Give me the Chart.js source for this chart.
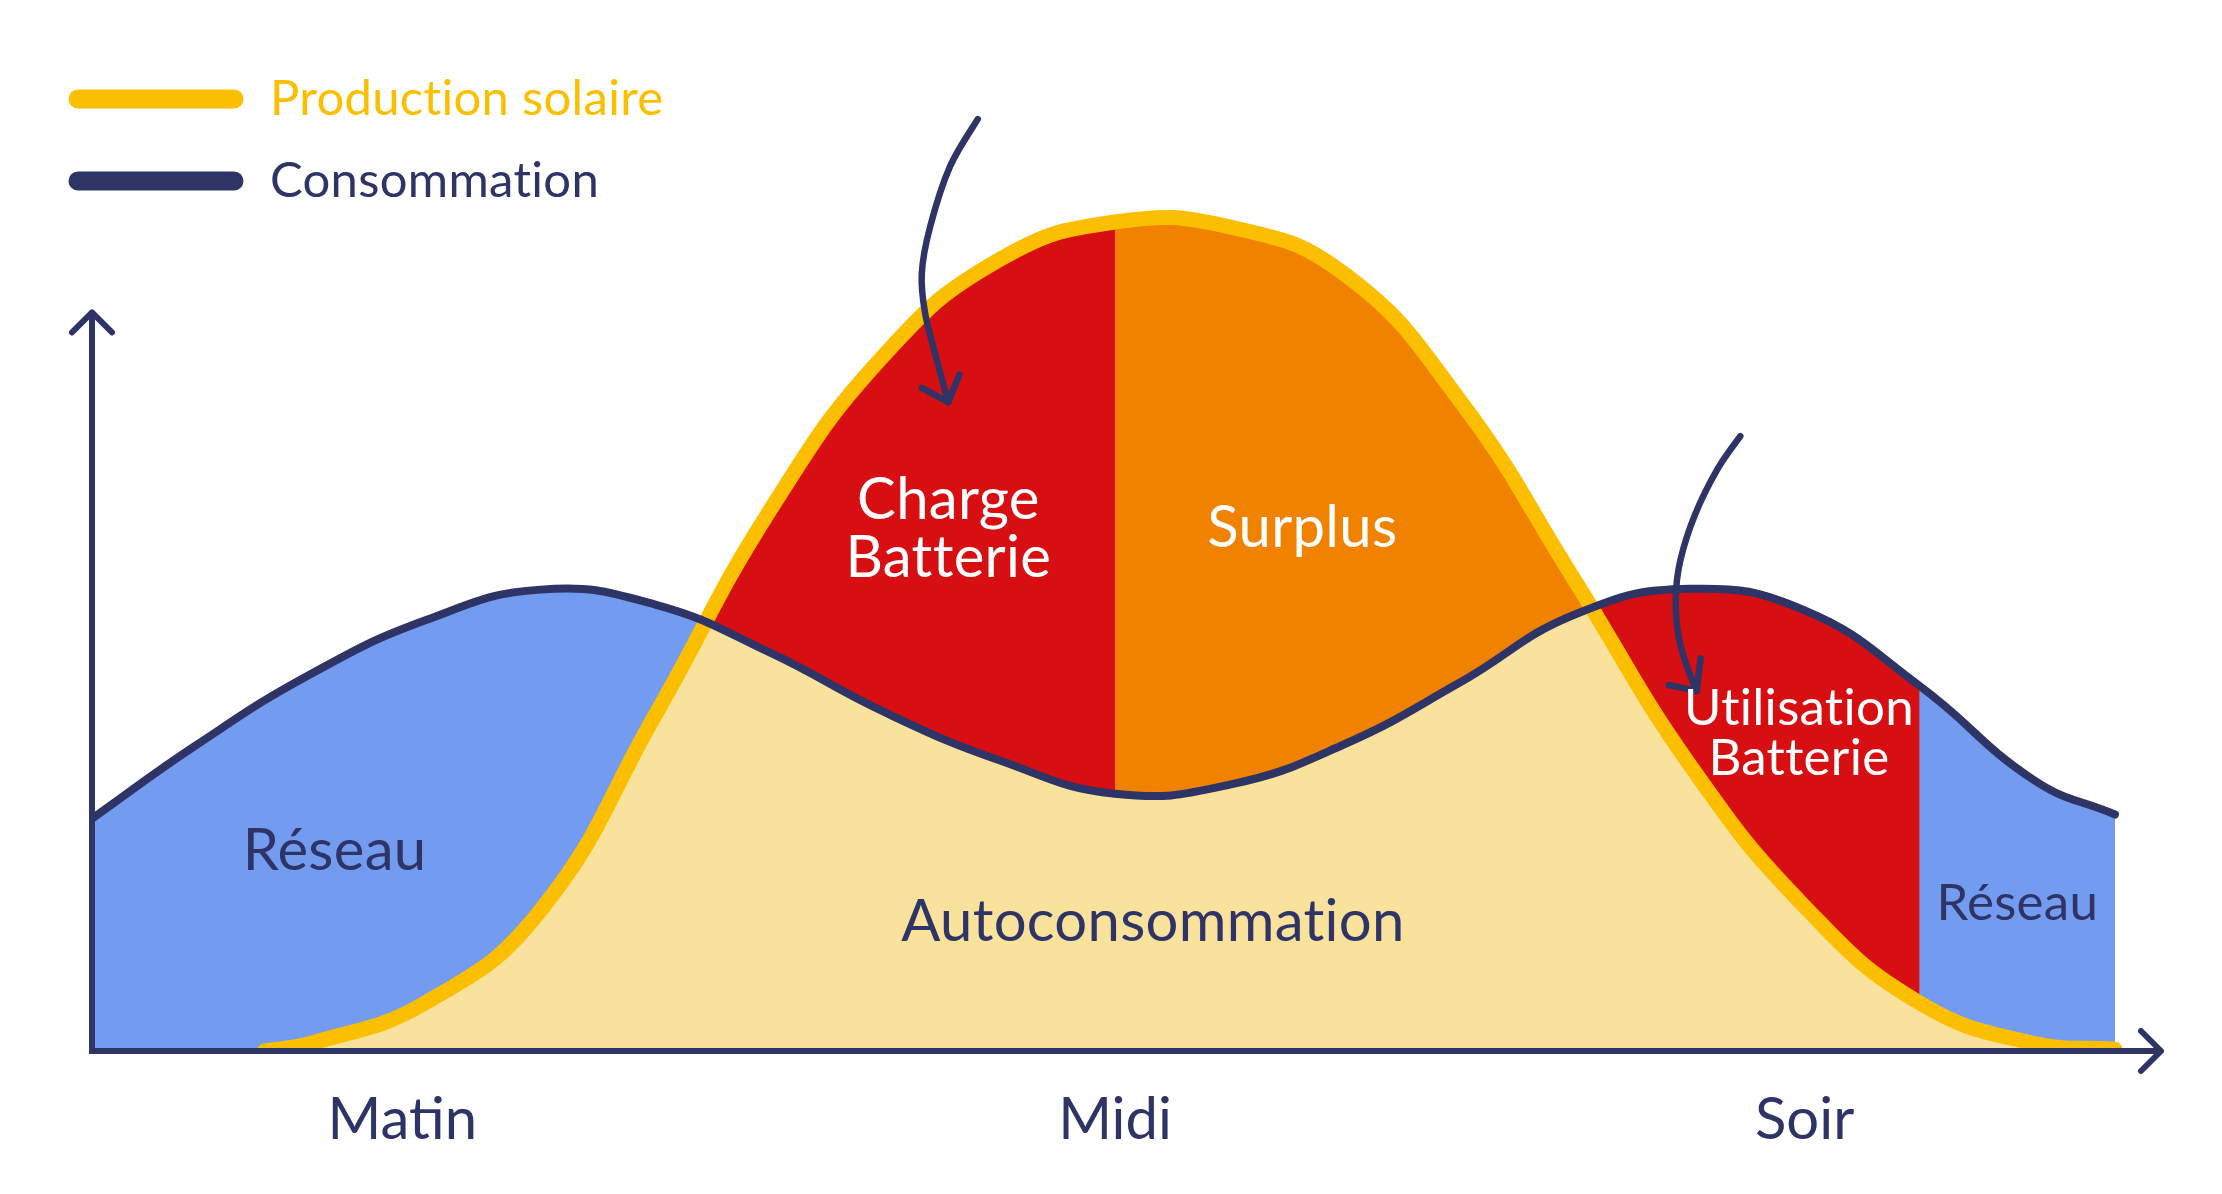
<!DOCTYPE html>
<html lang="fr">
<head>
<meta charset="UTF-8">
<title>Production solaire et consommation</title>
<script src="https://cdn.jsdelivr.net/npm/chart.js"></script>
<style>
  html, body { margin: 0; padding: 0; background: #fff; }
  #wrap { width: 2222px; height: 1194px; position: relative; }
</style>
</head>
<body>
<div id="wrap"><canvas id="solarChart"></canvas></div>
<script>
// hour of the day
const consHours    = [3.1, 4, 5, 6, 7, 8, 9, 10, 11, 12, 13, 14, 15, 16, 17, 18, 19, 20, 20.7];
const consommation = [28.0, 36.8, 45.4, 51.9, 55.6, 53.8, 48.0, 40.8, 35.0, 31.0, 32.1, 37.0, 44.4, 52.6, 55.7, 53.1, 44.0, 32.6, 28.5];
const prodHours    = [4.6, 5, 6, 7, 8, 9, 10, 11, 12, 13, 14, 15, 16, 17, 18, 19, 20, 20.7];
const production   = [0, 0.9, 5.8, 16.9, 40.5, 65.2, 84.0, 95.4, 99.9, 99.3, 93.6, 78.4, 56.7, 34.5, 17.4, 5.8, 0.9, 0.2];

// battery charges until noon, surplus after; battery is empty at 19h
const surplusFrom = 12, surplusTo = 17;
const batteryFrom = 16, batteryTo = 19;

const tickPos    = [5.8, 12, 18];
const tickLabels = ['Matin', 'Midi', 'Soir'];

const xAxisEnd = 21.1;
const yAxisTop = 89;

const navy = '#2e3466', yellow = '#fcbf00', paleYellow = '#f9e29c';
const blue = '#739cf0', red = '#d80f12', orange = '#f08200';

const pts = (hs, vals) => hs.map((h, i) => ({x: h, y: vals[i]}));
const part = (from, to) => pts(prodHours, production.map((v, i) => (prodHours[i] >= from && prodHours[i] <= to) ? v : null));

const labels = [
  {text: 'Charge',           x: 10.55, y: 66.4, color: '#fff', size: 58},
  {text: 'Batterie',         x: 10.55, y: 59.4, color: '#fff', size: 58},
  {text: 'Surplus',          x: 13.63, y: 63.0, color: '#fff', size: 58},
  {text: 'Réseau',           x: 5.21,  y: 24.1, color: navy,   size: 58},
  {text: 'Autoconsommation', x: 12.33, y: 15.5, color: navy,   size: 58},
  {text: 'Utilisation',      x: 17.95, y: 41.3, color: '#fff', size: 51},
  {text: 'Batterie',         x: 17.95, y: 35.3, color: '#fff', size: 51},
  {text: 'Réseau',           x: 19.85, y: 17.8, color: navy,   size: 51}
];

// curved pointers (data coordinates)
const pointers = [
  {path: [[10.806, 112.3], [10.565, 106.6], [10.391, 99.3], [10.319, 93.7], [10.348, 88.9], [10.449, 83.3], [10.55, 78.2]],
   head: [[10.319, 79.9], [10.55, 78.2], [10.646, 81.5]]},
  {path: [[17.44, 74.1], [17.245, 70.2], [17.045, 64.6], [16.918, 59.1], [16.878, 54.5], [16.904, 49.9], [16.979, 46.2], [17.061, 43.4]],
   head: [[16.818, 44.1], [17.061, 43.4], [17.094, 47.3]]}
];

const decor = {
  id: 'decor',
  afterDatasetsDraw(chart) {
    const {ctx, scales: {x, y}} = chart;
    const px = v => x.getPixelForValue(v);
    const py = v => y.getPixelForValue(v);
    ctx.save();

    // axes with arrows
    const ox = px(x.min), oy = py(0), yt = py(yAxisTop), xt = px(xAxisEnd);
    ctx.strokeStyle = navy;
    ctx.lineWidth = 6;
    ctx.lineJoin = 'miter';
    ctx.beginPath();
    ctx.moveTo(ox, yt); ctx.lineTo(ox, oy); ctx.lineTo(xt, oy);
    ctx.stroke();
    ctx.lineCap = 'round';
    ctx.lineJoin = 'round';
    ctx.beginPath();
    ctx.moveTo(ox - 20, yt + 20); ctx.lineTo(ox, yt); ctx.lineTo(ox + 20, yt + 20);
    ctx.moveTo(xt - 20, oy - 20); ctx.lineTo(xt, oy); ctx.lineTo(xt - 20, oy + 20);
    ctx.stroke();

    // pointers, smoothed through their points
    ctx.lineWidth = 6.5;
    pointers.forEach(p => {
      const P = p.path.map(a => [px(a[0]), py(a[1])]);
      ctx.beginPath();
      ctx.moveTo(P[0][0], P[0][1]);
      for (let i = 0; i < P.length - 1; i++) {
        const p0 = P[i - 1] || P[i], p1 = P[i], p2 = P[i + 1], p3 = P[i + 2] || P[i + 1];
        ctx.bezierCurveTo(
          p1[0] + (p2[0] - p0[0]) / 6, p1[1] + (p2[1] - p0[1]) / 6,
          p2[0] - (p3[0] - p1[0]) / 6, p2[1] - (p3[1] - p1[1]) / 6,
          p2[0], p2[1]);
      }
      ctx.stroke();
      ctx.beginPath();
      p.head.forEach((a, i) => i ? ctx.lineTo(px(a[0]), py(a[1])) : ctx.moveTo(px(a[0]), py(a[1])));
      ctx.stroke();
    });

    // area labels
    ctx.textAlign = 'center';
    ctx.textBaseline = 'middle';
    ctx.letterSpacing = '0.3px';
    labels.forEach(l => {
      ctx.font = l.size + 'px Lato';
      ctx.fillStyle = l.color;
      ctx.fillText(l.text, px(l.x), py(l.y));
    });

    // legend, top left
    const items = [chart.data.datasets[1], chart.data.datasets[0]];
    ctx.textAlign = 'left';
    ctx.font = '49px Lato';
    items.forEach((d, i) => {
      const ly = 99 + i * 82;
      ctx.strokeStyle = d.borderColor;
      ctx.lineWidth = 19;
      ctx.beginPath();
      ctx.moveTo(78, ly); ctx.lineTo(234, ly);
      ctx.stroke();
      ctx.fillStyle = d.borderColor;
      ctx.fillText(d.label, 270, ly);
    });
    ctx.restore();
  }
};

Chart.defaults.font.family = 'Lato';

new Chart(document.getElementById('solarChart'), {
  type: 'line',
  data: {
    datasets: [
      {label: 'Consommation', data: pts(consHours, consommation), borderColor: navy, borderWidth: 8, fill: false, order: 1},
      {label: 'Production solaire', data: pts(prodHours, production), borderColor: yellow, borderWidth: 15,
       backgroundColor: paleYellow, fill: 'origin', order: 5},
      {label: 'Réseau', data: pts(consHours, consommation), borderWidth: 0, backgroundColor: blue, fill: 'origin', order: 10},
      {label: 'Charge batterie', data: pts(prodHours, production), borderWidth: 0,
       fill: {target: 0, above: red, below: 'transparent'}, order: 4},
      {label: 'Surplus', data: part(surplusFrom, surplusTo), borderWidth: 0,
       fill: {target: 0, above: orange, below: 'transparent'}, order: 3},
      {label: 'Utilisation batterie', data: part(batteryFrom, batteryTo), borderWidth: 0,
       fill: {target: 0, above: 'transparent', below: red}, order: 3}
    ]
  },
  options: {
    responsive: true,
    maintainAspectRatio: false,
    animation: false,
    events: [],
    layout: {padding: {left: 92, right: 61, top: 188, bottom: 0}},
    elements: {
      point: {radius: 0},
      line: {tension: 0.45, borderCapStyle: 'round'}
    },
    plugins: {
      legend: {display: false},
      tooltip: {enabled: false},
      filler: {drawTime: 'beforeDatasetsDraw'}
    },
    scales: {
      x: {
        type: 'linear', min: 3.1, max: xAxisEnd,
        grid: {display: false, drawTicks: false},
        border: {display: false},
        afterBuildTicks: s => { s.ticks = tickPos.map(v => ({value: v})); },
        afterFit: s => { s.height = 143; },
        ticks: {
          autoSkip: false, maxRotation: 0, padding: 34,
          color: navy, font: {size: 58},
          callback: (v, i) => tickLabels[i]
        }
      },
      y: {min: 0, max: 104, display: false}
    }
  },
  plugins: [decor]
});
</script>
</body>
</html>
